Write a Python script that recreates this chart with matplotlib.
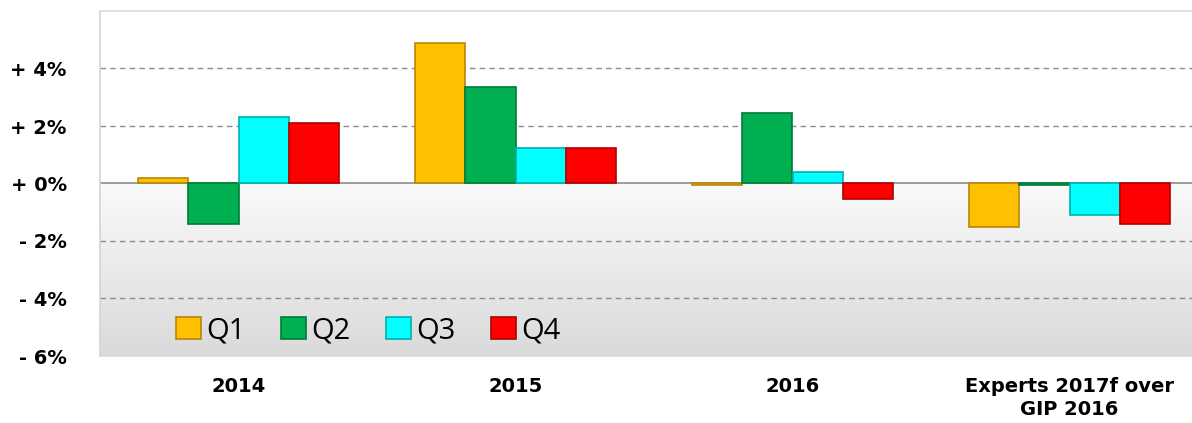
import matplotlib
matplotlib.use("Agg")
import matplotlib.pyplot as plt
import numpy as np
from matplotlib.colors import LinearSegmentedColormap

categories = ["2014", "2015", "2016", "Experts 2017f over\nGIP 2016"]
series_names = ["Q1", "Q2", "Q3", "Q4"]
q1 = [0.2, 4.9, -0.05, -1.5]
q2 = [-1.4, 3.35, 2.45, -0.05]
q3 = [2.3, 1.25, 0.4, -1.1]
q4 = [2.1, 1.25, -0.55, -1.4]
yticks = [-6, -4, -2, 0, 2, 4]
ytick_labels = ["- 6%", "- 4%", "- 2%", "+ 0%", "+ 2%", "+ 4%"]

colors = ["#FFC000", "#00B050", "#00FFFF", "#FF0000"]
edges = ["#B8860B", "#007A38", "#00B0B0", "#B00000"]

W, H = 1192, 423
fig = plt.figure(figsize=(W / 100, H / 100), dpi=100)
left_px, right_px, top_px, bot_px = 100, 1208, 11, 356
ax = fig.add_axes([left_px / W, 1 - bot_px / H, (right_px - left_px) / W, (bot_px - top_px) / H])

n = len(categories)

# background gradient below zero (light near zero, darker at bottom)
grad = np.linspace(0, 1, 256).reshape(-1, 1)
cmap = LinearSegmentedColormap.from_list("bg", ["#DADADA", "#FAFAFA"])
ax.imshow(grad, extent=[0, n, 0, -6], aspect="auto", cmap=cmap, zorder=0, origin="upper")
ax.set_ylim(-6, 6)
ax.set_xlim(0, n)

bw = 0.182
series = [q1, q2, q3, q4]
x = np.arange(n) + 0.5
for i, (vals, c, e, name) in enumerate(zip(series, colors, edges, series_names)):
    pos = x + (i - 1.5) * bw
    ax.bar(pos, vals, width=bw, color=c, edgecolor=e, linewidth=1.2, label=name, zorder=3)

for yv in [-4, -2, 2, 4]:
    ax.axhline(yv, color="#8C8C8C", linestyle=(0, (4, 3)), linewidth=1.0, zorder=1)
ax.axhline(0, color="#8C8C8C", linewidth=1.2, zorder=2)

ax.set_yticks(yticks)
ax.set_yticklabels(ytick_labels, fontsize=14, fontweight="bold", family="DejaVu Sans")
ax.set_xticks(x)
ax.set_xticklabels(categories, fontsize=14, fontweight="bold", family="DejaVu Sans", linespacing=1.3)
ax.tick_params(axis="y", length=0, pad=24)
ax.tick_params(axis="x", length=0, pad=15)

for s in ["top", "right", "bottom"]:
    ax.spines[s].set_color("#D9D9D9")
ax.spines["left"].set_color("#C8D8E0")
for s in ax.spines.values():
    s.set_linewidth(1.2)

leg = ax.legend(loc="lower left", bbox_to_anchor=(0.045, -0.045), ncol=4, frameon=False,
                handlelength=0.85, handleheight=0.75, handletextpad=0.2,
                columnspacing=1.2, prop={"family": "Open Sans", "size": 21})

fig.savefig("out.png", dpi=100)
